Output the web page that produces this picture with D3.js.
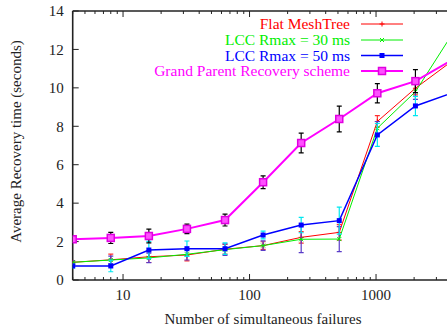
<!DOCTYPE html>
<html>
<head>
<meta charset="utf-8">
<script src="https://cdn.jsdelivr.net/npm/d3@7"></script>
<style>
  html, body { margin: 0; padding: 0; background: #fff; }
  svg { display: block; }
  svg text { font-family: "Liberation Serif", "Times New Roman", Times, "DejaVu Serif", serif; }
</style>
</head>
<body>
<svg id="chart" width="447" height="329"></svg>
<script>
// Number of simultaneous failures (x, log scale)
const failures = [4, 8, 16, 32, 64, 128, 256, 512, 1024, 2048, 4096];

// Average recovery time in seconds, one array per scheme
const flatMeshTree = [0.92, 1.05, 1.21, 1.30, 1.60, 1.79, 2.22, 2.48, 8.25, 9.98, 11.45];
const lcc30        = [0.92, 1.04, 1.15, 1.34, 1.58, 1.79, 2.12, 2.13, 7.90, 9.80, 12.90];
const lcc50        = [0.73, 0.73, 1.56, 1.63, 1.63, 2.34, 2.86, 3.09, 7.55, 9.06, 9.76];
const grandParent  = [2.12, 2.19, 2.29, 2.66, 3.12, 5.09, 7.13, 8.38, 9.72, 10.35, 11.50];

// Half-widths of the error bars (seconds)
const flatErr   = [0.08, 0.30, 0.30, 0.30, 0.25, 0.20, 0.30, 0.40, 0.30, 0.35, 0.40];
const lcc30Err  = [0.08, 0.20, 0.25, 0.30, 0.30, 0.25, 0.70, 0.65, 0.35, 0.40, 0.40];
const lcc50Err  = [0.10, 0.30, 0.45, 0.40, 0.30, 0.20, 0.40, 0.70, 0.60, 0.50, 0.50];
const gpErr     = [0.05, 0.29, 0.36, 0.25, 0.31, 0.33, 0.51, 0.67, 0.50, 0.60, 0.60];

const seriesNames = ["Flat MeshTree", "LCC Rmax = 30 ms", "LCC Rmax = 50 ms", "Grand Parent Recovery scheme"];
const yTicks = [0, 2, 4, 6, 8, 10, 12, 14];
const xTicks = [10, 100, 1000];

const series = [
  { name: seriesNames[0], values: flatMeshTree, err: flatErr,  color: "#ff0000", errColor: "#ff3030", width: 1,   marker: "plus" },
  { name: seriesNames[1], values: lcc30,        err: lcc30Err, color: "#00ee00", errColor: "#5a3cc8", width: 1,   marker: "cross" },
  { name: seriesNames[2], values: lcc50,        err: lcc50Err, color: "#0000ff", errColor: "#00e8f0", width: 1.5, marker: "fsquare" },
  { name: seriesNames[3], values: grandParent,  err: gpErr,    color: "#ff00ff", errColor: "#000000", width: 2,   marker: "square" }
];

const FONT = '"Liberation Serif", "Times New Roman", Times, serif';
const svg = d3.select("#chart");
const plotLeft = 72.7, plotTop = 11, plotBottom = 280;
const decade = 126.5;
const W = 447;

const x = d3.scaleLog().domain([4, 4096]).range([plotLeft, plotLeft + decade * Math.log10(1024)]);
const y = d3.scaleLinear().domain([0, 14]).range([plotBottom, plotTop]);

// Plot clip region
svg.append("defs").append("clipPath").attr("id", "plotclip")
  .append("rect").attr("x", plotLeft).attr("y", plotTop - 8).attr("width", W - plotLeft).attr("height", plotBottom - plotTop + 16);

// Axis ticks (inward, mirrored on top)
const minor = [];
for (let d = 1; d <= 1000; d *= 10) for (let k = 1; k < 10; k++) {
  const v = d * k;
  if (v >= 4 && v <= 4096 && xTicks.indexOf(v) < 0) minor.push(v);
}
const axisG = svg.append("g").attr("stroke", "#222");
xTicks.forEach(v => {
  axisG.append("line").attr("x1", x(v)).attr("x2", x(v)).attr("y1", plotBottom).attr("y2", plotBottom - 6).attr("stroke-width", 1);
  axisG.append("line").attr("x1", x(v)).attr("x2", x(v)).attr("y1", plotTop).attr("y2", plotTop + 6).attr("stroke-width", 1);
});
minor.forEach(v => {
  if (x(v) > W) return;
  axisG.append("line").attr("x1", x(v)).attr("x2", x(v)).attr("y1", plotBottom).attr("y2", plotBottom - 3).attr("stroke-width", 1);
  axisG.append("line").attr("x1", x(v)).attr("x2", x(v)).attr("y1", plotTop).attr("y2", plotTop + 3).attr("stroke-width", 1);
});
yTicks.forEach(v => {
  axisG.append("line").attr("x1", plotLeft).attr("x2", plotLeft + 6).attr("y1", y(v)).attr("y2", y(v)).attr("stroke-width", 1);
});

// Frame
axisG.append("line").attr("x1", plotLeft).attr("x2", W).attr("y1", plotBottom).attr("y2", plotBottom).attr("stroke-width", 1.6);
axisG.append("line").attr("x1", plotLeft).attr("x2", W).attr("y1", plotTop).attr("y2", plotTop).attr("stroke-width", 1.6);
axisG.append("line").attr("x1", plotLeft).attr("x2", plotLeft).attr("y1", plotTop).attr("y2", plotBottom).attr("stroke-width", 1.6);

// Tick labels
svg.append("g").selectAll("text").data(yTicks).join("text")
  .attr("x", plotLeft - 9).attr("y", d => y(d)).attr("dy", "0.35em")
  .attr("text-anchor", "end").attr("font-family", FONT).attr("font-size", 15).attr("fill", "#222").text(d => d);
svg.append("g").selectAll("text").data(xTicks).join("text")
  .attr("x", d => x(d)).attr("y", 300)
  .attr("text-anchor", "middle").attr("font-family", FONT).attr("font-size", 15).attr("fill", "#222").text(d => d);

// Axis titles
svg.append("text").attr("x", 263).attr("y", 324).attr("text-anchor", "middle")
  .attr("font-family", FONT).attr("font-size", 15).attr("fill", "#222").text("Number of simultaneous failures");
svg.append("text").attr("transform", `translate(21,${(plotTop + plotBottom) / 2 - 4}) rotate(-90)`)
  .attr("text-anchor", "middle").attr("font-family", FONT).attr("font-size", 15).attr("fill", "#222")
  .text("Average Recovery time (seconds)");

function drawMarker(g, kind, cx, cy, color) {
  if (kind === "plus") {
    g.append("path").attr("d", `M${cx - 2.5},${cy}H${cx + 2.5}M${cx},${cy - 2.5}V${cy + 2.5}`)
      .attr("stroke", color).attr("stroke-width", 1);
  } else if (kind === "cross") {
    g.append("path").attr("d", `M${cx - 2},${cy - 2}L${cx + 2},${cy + 2}M${cx - 2},${cy + 2}L${cx + 2},${cy - 2}`)
      .attr("stroke", color).attr("stroke-width", 1);
  } else if (kind === "fsquare") {
    g.append("rect").attr("x", cx - 2.5).attr("y", cy - 2.5).attr("width", 5).attr("height", 5).attr("fill", color);
  } else {
    g.append("rect").attr("x", cx - 3.5).attr("y", cy - 3.5).attr("width", 7).attr("height", 7)
      .attr("fill", "#ff50ff").attr("stroke", "#e000e0").attr("stroke-width", 1.5);
  }
}

const plot = svg.append("g").attr("clip-path", "url(#plotclip)");
const line = d3.line().x(d => x(d[0])).y(d => y(d[1]));

series.forEach(s => {
  const pts = failures.map((f, i) => [f, s.values[i], s.err[i]]);
  const g = plot.append("g");
  // error bars
  pts.forEach(p => {
    const cx = x(p[0]), y1 = y(p[1] + p[2]), y2 = y(p[1] - p[2]);
    g.append("path").attr("d", `M${cx},${y1}V${y2}M${cx - 2.5},${y1}H${cx + 2.5}M${cx - 2.5},${y2}H${cx + 2.5}`)
      .attr("stroke", s.errColor).attr("stroke-width", 1.2).attr("fill", "none");
  });
  g.append("path").datum(pts).attr("d", line).attr("fill", "none")
    .attr("stroke", s.color).attr("stroke-width", s.width);
  pts.forEach(p => drawMarker(g, s.marker, x(p[0]), y(p[1]), s.color));
});

// Legend
const legend = svg.append("g");
const ly = [24, 40, 55.5, 71];
series.forEach((s, i) => {
  legend.append("text").attr("x", 350).attr("y", ly[i]).attr("dy", "0.35em")
    .attr("text-anchor", "end").attr("font-family", FONT).attr("font-size", 15.5).attr("fill", s.color).text(s.name);
  legend.append("line").attr("x1", 361).attr("x2", 403).attr("y1", ly[i]).attr("y2", ly[i])
    .attr("stroke", s.color).attr("stroke-width", s.width);
  drawMarker(legend, s.marker, 382, ly[i], s.color);
});
</script>
</body>
</html>
